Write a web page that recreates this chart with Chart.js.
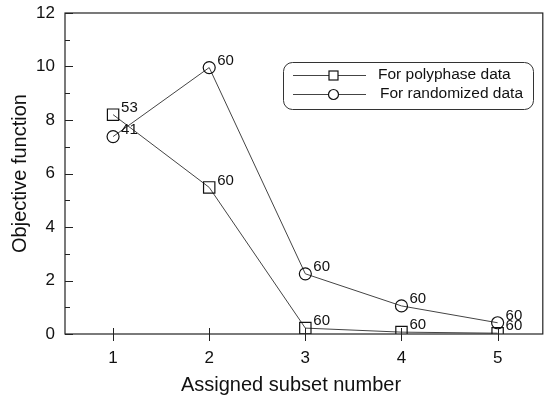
<!DOCTYPE html>
<html>
<head>
<meta charset="utf-8">
<script src="https://cdn.jsdelivr.net/npm/chart.js@4/dist/chart.umd.min.js"></script>
<style>
  html, body { margin: 0; padding: 0; background: #fff; }
  #wrap { width: 552px; height: 399px; }
</style>
</head>
<body>
<div id="wrap"><canvas id="chart" width="552" height="399"></canvas></div>
<script>
const subsets = [1, 2, 3, 4, 5];
const polyphase = [8.2, 5.48, 0.22, 0.07, 0.03];
const randomized = [7.38, 9.96, 2.25, 1.05, 0.42];
const polyLabels = ["53", "60", "60", "60", "60"];
const randLabels = ["41", "60", "60", "60", "60"];
const yTicks = [0, 2, 4, 6, 8, 10, 12];
const yMinorTicks = [1, 3, 5, 7, 9, 11];
const xTitle = "Assigned subset number";

const FONT = "'Liberation Sans', Arial, sans-serif";
const X_MIN = 0.5, X_MAX = 5.47;

function toPoints(vals) {
  return subsets.map((x, i) => ({ x: x, y: vals[i] }));
}

// box round the plot plus tick marks and the x title
const framePlugin = {
  id: "frame",
  afterDraw(chart) {
    const ctx = chart.ctx;
    const a = chart.chartArea;
    const xs = chart.scales.x, ys = chart.scales.y;
    ctx.save();
    ctx.strokeStyle = "#222";
    ctx.lineWidth = 1.2;
    ctx.strokeRect(a.left, a.top, a.right - a.left, a.bottom - a.top);
    ctx.lineWidth = 1;
    ctx.beginPath();
    yTicks.forEach(v => {
      const y = Math.round(ys.getPixelForValue(v)) + 0.5;
      ctx.moveTo(a.left, y); ctx.lineTo(a.left + 8, y);
    });
    yMinorTicks.forEach(v => {
      const y = Math.round(ys.getPixelForValue(v)) + 0.5;
      ctx.moveTo(a.left, y); ctx.lineTo(a.left + 5, y);
    });
    subsets.forEach(v => {
      const x = Math.round(xs.getPixelForValue(v)) + 0.5;
      ctx.moveTo(x, a.bottom - 6); ctx.lineTo(x, a.bottom + 7);
    });
    ctx.stroke();

    ctx.fillStyle = "#111";
    ctx.font = "20px " + FONT;
    ctx.textAlign = "center";
    ctx.textBaseline = "middle";
    ctx.fillText(xTitle, 291, 385);
    ctx.restore();
  }
};

// number next to every point
const pointLabelPlugin = {
  id: "pointLabels",
  afterDatasetsDraw(chart) {
    const ctx = chart.ctx;
    ctx.save();
    ctx.font = "15px " + FONT;
    ctx.fillStyle = "#111";
    ctx.textBaseline = "middle";
    ctx.textAlign = "left";
    chart.data.datasets.forEach((ds, di) => {
      const meta = chart.getDatasetMeta(di);
      meta.data.forEach((pt, i) => {
        ctx.fillText(ds.pointTexts[i], pt.x + 8, pt.y - 7);
      });
    });
    ctx.restore();
  }
};

// legend box like the original
const legendPlugin = {
  id: "boxLegend",
  afterDraw(chart) {
    const ctx = chart.ctx;
    const bx = 283, by = 62, bw = 250, bh = 47, r = 9;
    ctx.save();
    ctx.strokeStyle = "#333";
    ctx.lineWidth = 1;
    ctx.beginPath();
    ctx.roundRect(bx + 0.5, by + 0.5, bw, bh, r);
    ctx.stroke();
    const rows = [
      { y: 75, style: "rect", text: chart.data.datasets[0].label, tx: 378 },
      { y: 94, style: "circle", text: chart.data.datasets[1].label, tx: 380 }
    ];
    rows.forEach(row => {
      ctx.strokeStyle = "#444";
      ctx.beginPath();
      ctx.moveTo(293, row.y + 0.5); ctx.lineTo(366, row.y + 0.5);
      ctx.stroke();
      ctx.strokeStyle = "#111";
      ctx.lineWidth = 1.2;
      if (row.style === "rect") {
        ctx.fillStyle = "#fff";
        ctx.fillRect(329, row.y - 4, 9, 9);
        ctx.strokeRect(329, row.y - 4, 9, 9);
      } else {
        ctx.fillStyle = "#fff";
        ctx.beginPath();
        ctx.arc(333.5, row.y + 0.5, 5, 0, Math.PI * 2);
        ctx.fill();
        ctx.stroke();
      }
      ctx.lineWidth = 1;
      ctx.fillStyle = "#111";
      ctx.font = "15.5px " + FONT;
      ctx.textBaseline = "middle";
      ctx.fillText(row.text, row.tx, row.y);
    });
    ctx.restore();
  }
};

new Chart(document.getElementById("chart"), {
  type: "line",
  data: {
    datasets: [
      {
        label: "For polyphase data",
        data: toPoints(polyphase),
        pointTexts: polyLabels,
        borderColor: "#444",
        borderWidth: 1,
        pointStyle: "rect",
        pointRadius: 8,
        pointBorderColor: "#111",
        pointBorderWidth: 1.2,
        pointBackgroundColor: "rgba(0,0,0,0)",
        tension: 0
      },
      {
        label: "For randomized data",
        data: toPoints(randomized),
        pointTexts: randLabels,
        borderColor: "#444",
        borderWidth: 1,
        pointStyle: "circle",
        pointRadius: 6,
        pointBorderColor: "#111",
        pointBorderWidth: 1.2,
        pointBackgroundColor: "rgba(0,0,0,0)",
        tension: 0
      }
    ]
  },
  options: {
    responsive: false,
    animation: false,
    events: [],
    layout: { padding: { top: 13, right: 5, left: 0, bottom: 0 } },
    plugins: { legend: { display: false }, tooltip: { enabled: false } },
    scales: {
      x: {
        type: "linear",
        bounds: "data",
        min: X_MIN,
        max: X_MAX,
        grid: { display: false, drawTicks: false },
        border: { display: false },
        afterBuildTicks(scale) {
          scale.ticks = subsets.map(v => ({ value: v }));
          scale.min = X_MIN; scale.max = X_MAX;
        },
        afterFit(scale) {
          scale.height = 65;
          scale.paddingLeft = 0;
          scale.paddingRight = 0;
        },
        ticks: { padding: 14, color: "#111", font: { family: FONT, size: 17 } }
      },
      y: {
        bounds: "data",
        min: 0,
        max: 12,
        grid: { display: false, drawTicks: false },
        border: { display: false },
        afterBuildTicks(scale) { scale.ticks = yTicks.map(v => ({ value: v })); },
        afterFit(scale) {
          scale.width = 65;
          scale.paddingTop = 0;
          scale.paddingBottom = 0;
        },
        ticks: { padding: 10, color: "#111", font: { family: FONT, size: 17 } },
        title: {
          display: true,
          text: "Objective function",
          color: "#111",
          font: { family: FONT, size: 20 },
          padding: { top: 8, bottom: 0 }
        }
      }
    }
  },
  plugins: [framePlugin, pointLabelPlugin, legendPlugin]
});
</script>
</body>
</html>
